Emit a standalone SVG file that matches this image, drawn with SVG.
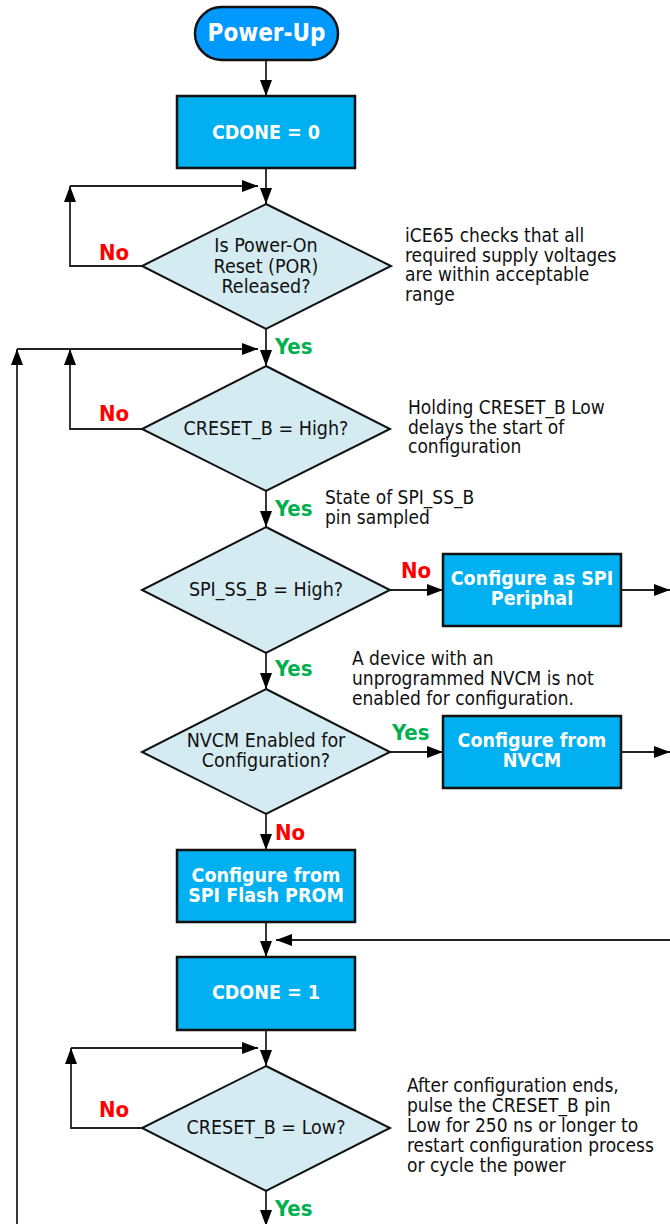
<svg xmlns="http://www.w3.org/2000/svg" width="670" height="1224" viewBox="0 0 670 1224">
<style>
  .box{fill:#00B0F0;stroke:#111;stroke-width:2.5}
  .term{fill:#0099FF;stroke:#111;stroke-width:2.5}
  .dia{fill:#D4EBF2;stroke:#111;stroke-width:2}
  .lbl{font-family:"DejaVu Sans Condensed","DejaVu Sans",sans-serif;font-stretch:condensed;font-weight:bold;font-size:19.5px;fill:#fff;text-anchor:middle}
  .dt{font-family:"DejaVu Sans Condensed","DejaVu Sans",sans-serif;font-stretch:condensed;font-size:19.5px;fill:#111;text-anchor:middle}
  .note{font-family:"DejaVu Sans Condensed","DejaVu Sans",sans-serif;font-stretch:condensed;font-size:19px;fill:#111}
  .no{font-family:"DejaVu Sans Condensed","DejaVu Sans",sans-serif;font-stretch:condensed;font-weight:bold;font-size:22px;fill:#FF0000}
  .yes{font-family:"DejaVu Sans Condensed","DejaVu Sans",sans-serif;font-stretch:condensed;font-weight:bold;font-size:22px;fill:#00B050}
  .ln{fill:none;stroke:#222;stroke-width:1.8;marker-end:url(#ah)}
</style>
<defs>
  <marker id="ah" markerUnits="userSpaceOnUse" markerWidth="16" markerHeight="12" refX="16" refY="6" orient="auto">
    <path d="M0,0 L16,6 L0,12 Z" fill="#000"/>
  </marker>
</defs>
<rect width="670" height="1224" fill="#fff"/>

<g id="connectors">
  <path class="ln" d="M266,60 V96"/>
  <path class="ln" d="M266,168 V204"/>
  <path class="ln" d="M266,329 V366"/>
  <path class="ln" d="M266,491 V527"/>
  <path class="ln" d="M266,653 V689"/>
  <path class="ln" d="M266,814 V850"/>
  <path class="ln" d="M266,922 V957"/>
  <path class="ln" d="M266,1030 V1066"/>
  <path class="ln" d="M266,1191 V1226"/>
  <path class="ln" d="M390,590 H443"/>
  <path class="ln" d="M621,590 H670"/>
  <path class="ln" d="M390,752 H443"/>
  <path class="ln" d="M621,752 H670"/>
  <path class="ln" d="M672,940 H276"/>
  <path class="ln" d="M142,266 H70 V186"/>
  <path class="ln" d="M70,186 H258"/>
  <path class="ln" d="M142,429 H70 V349"/>
  <path class="ln" d="M17,1226 V349"/>
  <path class="ln" d="M17,349 H258"/>
  <path class="ln" d="M142,1128 H71 V1048"/>
  <path class="ln" d="M71,1048 H258"/>
  <text class="no" x="99" y="260">No</text>
  <text class="yes" x="275" y="354">Yes</text>
  <text class="no" x="99" y="421">No</text>
  <text class="yes" x="275" y="516">Yes</text>
  <text class="no" x="401" y="578">No</text>
  <text class="yes" x="275" y="676">Yes</text>
  <text class="yes" x="392" y="740">Yes</text>
  <text class="no" x="275" y="840">No</text>
  <text class="no" x="99" y="1117">No</text>
  <text class="yes" x="275" y="1216">Yes</text>
</g>

<g id="power-up">
  <rect class="term" x="195" y="7" width="143" height="53" rx="26.5"/>
  <text class="lbl" x="266.5" y="41" style="font-size:24px">Power-Up</text>
</g>

<g id="cdone0">
  <rect class="box" x="177" y="96" width="178" height="72"/>
  <text class="lbl" x="266" y="139">CDONE = 0</text>
</g>

<g id="por">
  <polygon class="dia" points="266,204 391,266 266,329 142,266"/>
  <text class="dt" x="266" y="252">Is Power-On<tspan x="266" dy="20.5">Reset (POR)</tspan><tspan x="266" dy="20.5">Released?</tspan></text>
</g>

<g id="note-por">
  <text class="note" x="405" y="242">iCE65 checks that all<tspan x="405" dy="19.5">required supply voltages</tspan><tspan x="405" dy="19.5">are within acceptable</tspan><tspan x="405" dy="19.5">range</tspan></text>
</g>

<g id="creset-high">
  <polygon class="dia" points="266,366 390,429 266,491 142,429"/>
  <text class="dt" x="266" y="435">CRESET_B = High?</text>
</g>

<g id="note-creset">
  <text class="note" x="408" y="414">Holding CRESET_B Low<tspan x="408" dy="19.5">delays the start of</tspan><tspan x="408" dy="19.5">configuration</tspan></text>
</g>

<g id="note-ss">
  <text class="note" x="325" y="504">State of SPI_SS_B<tspan x="325" dy="20">pin sampled</tspan></text>
</g>

<g id="spi-ss">
  <polygon class="dia" points="266,527 390,590 266,653 142,590"/>
  <text class="dt" x="266" y="596">SPI_SS_B = High?</text>
</g>

<g id="spi-periph">
  <rect class="box" x="443" y="554" width="178" height="72"/>
  <text class="lbl" x="532" y="585">Configure as SPI<tspan x="532" dy="19.5">Periphal</tspan></text>
</g>

<g id="note-nvcm">
  <text class="note" x="352" y="665">A device with an<tspan x="352" dy="20">unprogrammed NVCM is not</tspan><tspan x="352" dy="20">enabled for configuration.</tspan></text>
</g>

<g id="nvcm-enabled">
  <polygon class="dia" points="266,689 390,752 266,814 142,752"/>
  <text class="dt" x="266" y="747">NVCM Enabled for<tspan x="266" dy="20">Configuration?</tspan></text>
</g>

<g id="from-nvcm">
  <rect class="box" x="443" y="716" width="178" height="72"/>
  <text class="lbl" x="532" y="747">Configure from<tspan x="532" dy="20">NVCM</tspan></text>
</g>

<g id="from-flash">
  <rect class="box" x="177" y="850" width="178" height="72"/>
  <text class="lbl" x="266" y="882">Configure from<tspan x="266" dy="20">SPI Flash PROM</tspan></text>
</g>

<g id="cdone1">
  <rect class="box" x="177" y="957" width="178" height="73"/>
  <text class="lbl" x="266" y="999">CDONE = 1</text>
</g>

<g id="creset-low">
  <polygon class="dia" points="266,1066 390,1128 266,1191 142,1128"/>
  <text class="dt" x="266" y="1134">CRESET_B = Low?</text>
</g>

<g id="note-restart">
  <text class="note" x="407" y="1092">After configuration ends,<tspan x="407" dy="20">pulse the CRESET_B pin</tspan><tspan x="407" dy="20">Low for 250 ns or longer to</tspan><tspan x="407" dy="20">restart configuration process</tspan><tspan x="407" dy="20">or cycle the power</tspan></text>
</g>
</svg>
